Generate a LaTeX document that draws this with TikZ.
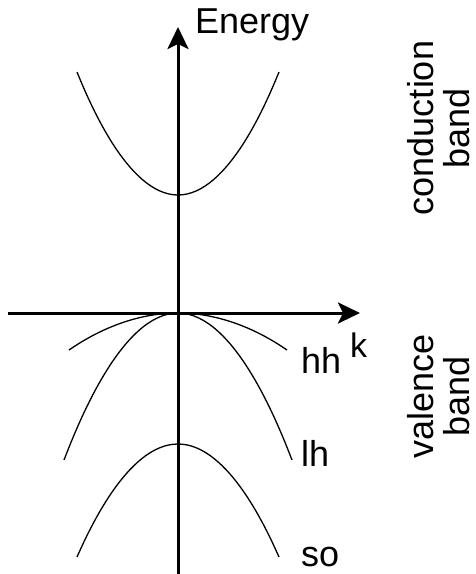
\documentclass[tikz,border=0pt]{standalone}
\usepackage{fontspec}
\setmainfont{Liberation Sans}
\usetikzlibrary{positioning, calc, arrows.meta}
\tikzset{
    axis/.style={line width=3pt, -{Stealth[length=22pt, width=21pt, inset=5pt]}},
    band/.style={line width=1.3pt},
    lbl/.style={inner sep=0pt, font=\fontsize{36}{41}\selectfont},
    klbl/.style={inner sep=0pt, font=\fontsize{34}{38}\selectfont},
    sidelbl/.style={inner sep=0pt, rotate=90, align=center, font=\fontsize{36}{36}\selectfont},
}
\begin{document}
\begin{tikzpicture}[x=1pt, y=-1pt]
    \useasboundingbox (0,0) rectangle (476,574);

    % Achsen
    \coordinate (ebot) at (178,574);
    \coordinate (etop) at (178,27);
    \coordinate (kleft) at (8,313);
    \coordinate (kright) at (360,313);
    \draw[axis] (ebot) -- (etop);
    \draw[axis] (kleft) -- (kright);

    % Leitungsband
    \draw[band] (77,72) parabola bend (178,195) (279,72);

    % Valenzbaender: hh, lh, so
    \draw[band] (69,350) parabola bend (178,313) (287,350);
    \draw[band] (64,460) parabola bend (178,313) (292,460);
    \draw[band] (77,557) parabola bend (178,444) (279,557);

    % Beschriftungen
    \node[lbl, anchor=base west] (energy) at (195,33) {Energy};
    \node[klbl, anchor=base west] (klab) at (350,357) {k};
    \node[lbl, anchor=base west] (hh) at (301,373) {hh};
    \node[lbl, anchor=base west] (lh) at (301,466) {lh};
    \node[lbl, anchor=base west] (so) at (301,566) {so};
    \node[sidelbl] (cband) at (439,128) {conduction\\band};
    \node[sidelbl] (vband) at (439,396) {valence\\band};
\end{tikzpicture}
\end{document}
